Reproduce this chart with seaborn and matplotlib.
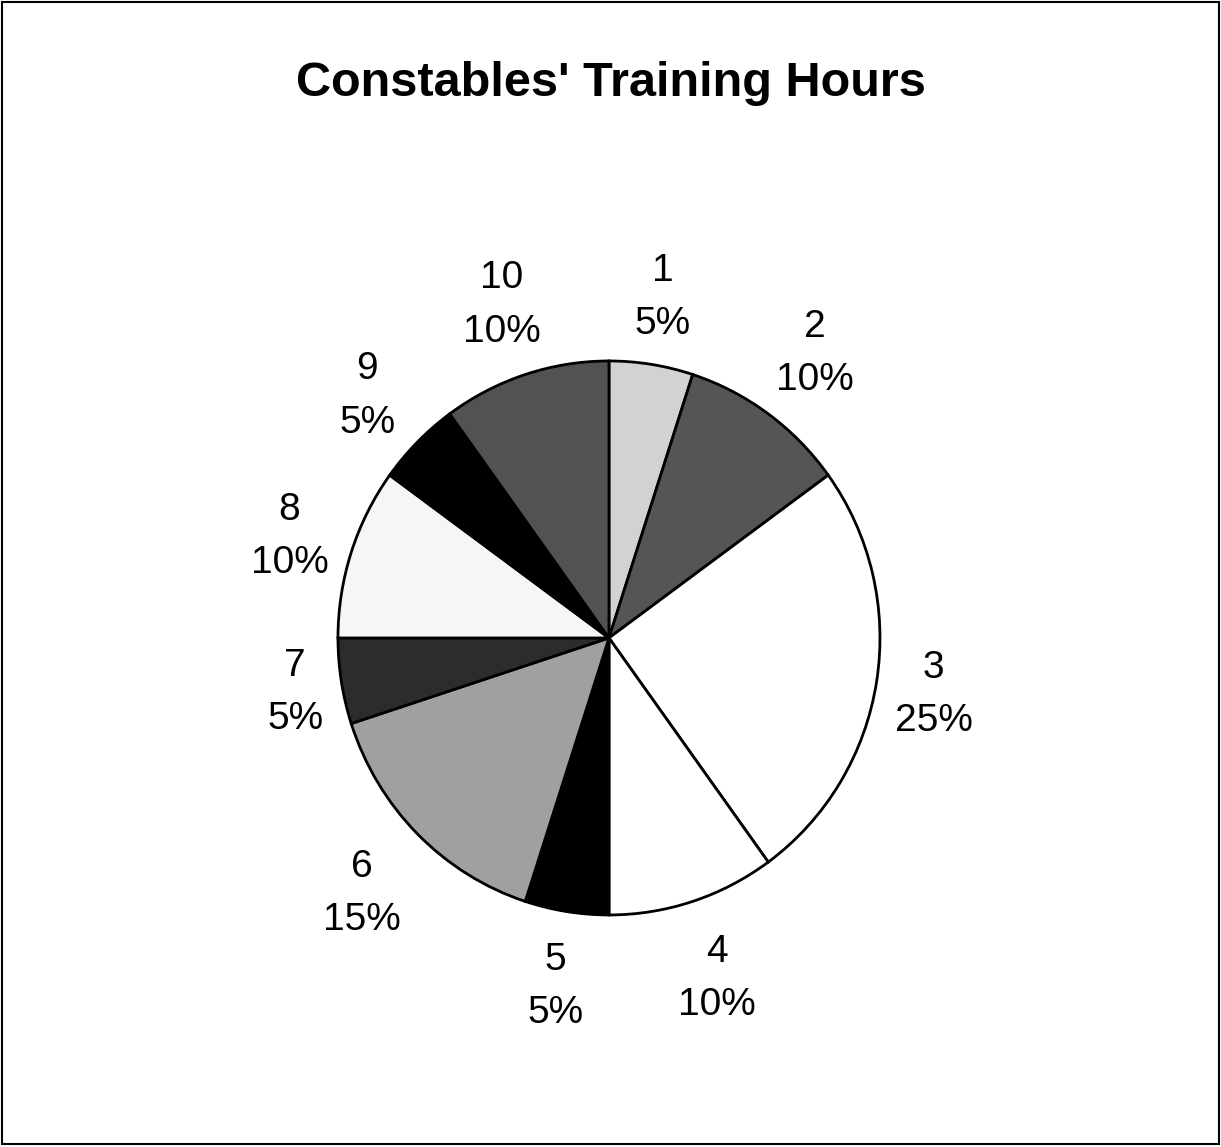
import matplotlib
matplotlib.use("Agg")
import numpy as np
import matplotlib.pyplot as plt
import seaborn as sns
from matplotlib.patches import Rectangle

sns.set_theme(style="white")
plt.rcParams['font.family'] = ['Liberation Sans', 'DejaVu Sans']

categories = ["1", "2", "3", "4", "5", "6", "7", "8", "9", "10"]
values = [5, 10, 25, 10, 5, 15, 5, 10, 5, 10]
colors = ["#d2d2d2", "#555555", "#ffffff", "#ffffff", "#000000",
          "#a0a0a0", "#2c2c2c", "#f6f6f6", "#000000", "#525252"]
title = "Constables' Training Hours"

fig = plt.figure(figsize=(12.21, 11.47), dpi=100)
fig.patch.set_facecolor("white")
ax = fig.add_axes([0.2768, 0.2023, 0.4439, 0.4830])

labels = [f"{c}\n{v}%" for c, v in zip(categories, values)]
wedges, texts = ax.pie(values, labels=labels, colors=colors, startangle=90,
                       counterclock=False, labeldistance=1.27, radius=1.0,
                       wedgeprops=dict(edgecolor="black", linewidth=2),
                       textprops=dict(fontsize=28, color="black", linespacing=1.62))
ax.set_xlim(-1, 1)
ax.set_ylim(-1, 1)
ax.set_aspect("auto")
ax.axis("off")

# Excel-like label placement: text box sits a small gap outside the rim
fig.canvas.draw()
renderer = fig.canvas.get_renderer()
bb = ax.get_window_extent()
ppx, ppy = bb.width / 2.0, bb.height / 2.0
gap_px, half_h_px = 10.0, 58.0
for w, t in zip(wedges, texts):
    t.set_ha("center")
    t.set_va("center")
    t.set_clip_on(False)
    ang = np.deg2rad((w.theta1 + w.theta2) / 2.0)
    dx, dy = np.cos(ang), np.sin(ang)
    width_px = t.get_window_extent(renderer).width
    extra = gap_px + abs(dx) * width_px / 2.0 + abs(dy) * half_h_px
    t.set_position((dx * (1.0 + extra / ppx), dy * (1.0 + extra / ppy) - 4.0 / ppy))

fig.text(0.5, 1 - 84 / 1147, title, ha="center", va="center",
         fontsize=35, fontweight="bold", color="black")

fig.patches.append(Rectangle((0.002, 0.003), 0.996, 0.995, transform=fig.transFigure,
                             fill=False, edgecolor="black", linewidth=1.5))

fig.savefig("out.png", dpi=100, facecolor="white")
